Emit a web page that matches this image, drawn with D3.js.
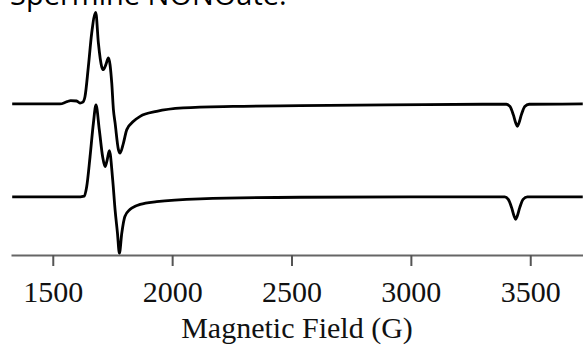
<!DOCTYPE html>
<html>
<head>
<meta charset="utf-8">
<script src="https://cdn.jsdelivr.net/npm/d3@7"></script>
<style>
  body { margin: 0; background: #fff; }
  svg { display: block; }
</style>
</head>
<body>
<div id="chart"></div>
<script>
// field ticks (G)
const fieldTicks = [1500, 2000, 2500, 3000, 3500];

// upper spectrum, field (G) and signal (a.u., relative to its own baseline)
const topField = [1330, 1530, 1560, 1575, 1600, 1614, 1626, 1635, 1649, 1663, 1680, 1691, 1705, 1712, 1722, 1733, 1747, 1754, 1761, 1775, 1782, 1796, 1810, 1838, 1866, 1935, 2046, 2255, 2536, 2900, 3300, 3400, 3415, 3429, 3440, 3446, 3452, 3463, 3477, 3495, 3720];
const topSignal = [0, 0, 0.025, 0.035, 0.032, 0.01, 0.02, 0.08, 0.40, 0.76, 0.985, 0.656, 0.40, 0.369, 0.42, 0.495, 0.226, -0.061, -0.204, -0.49, -0.527, -0.42, -0.276, -0.187, -0.133, -0.08, -0.043, -0.026, -0.018, -0.01, -0.003, -0.003, -0.026, -0.115, -0.21, -0.24, -0.21, -0.115, -0.026, -0.003, 0];

// lower spectrum
const bottomField = [1330, 1600, 1632, 1642, 1656, 1670, 1681, 1695, 1709, 1719, 1728, 1737, 1751, 1761, 1771, 1779, 1789, 1802, 1823, 1845, 1866, 1935, 2117, 2536, 3000, 3393, 3408, 3422, 3433, 3439, 3445, 3456, 3470, 3488, 3720];
const bottomSignal = [0, 0, 0.01, 0.11, 0.43, 0.79, 0.99, 0.72, 0.43, 0.326, 0.40, 0.498, 0.183, -0.14, -0.39, -0.605, -0.39, -0.21, -0.135, -0.10, -0.08, -0.05, -0.02, -0.003, 0, 0, -0.026, -0.115, -0.21, -0.24, -0.21, -0.115, -0.026, 0, 0];

const stackOffset = 1; // upper trace is shifted up by one unit

let width = 583, height = 345;
let svg = d3.select("#chart").append("svg")
  .attr("width", width)
  .attr("height", height);

let x = d3.scaleLinear().domain([1325, 3721]).range([11, 583]);
let y = d3.scaleLinear().domain([-0.624, 2.118]).range([255, 0]);

// title, cropped at the top of the picture like the source
svg.append("text")
  .attr("x", 10)
  .attr("y", 5)
  .style("font-family", "'Open Sans', sans-serif")
  .style("font-size", "29px")
  .attr("fill", "#000")
  .text("Spermine NONOate:");

let line = d3.line()
  .x(d => x(d[0]))
  .y(d => y(d[1]))
  .curve(d3.curveMonotoneX);

let topData = topField.map((f, i) => [f, topSignal[i] + stackOffset]);
let bottomData = bottomField.map((f, i) => [f, bottomSignal[i]]);

[topData, bottomData].forEach(d => {
  svg.append("path")
    .attr("d", line(d))
    .attr("fill", "none")
    .attr("stroke", "#000")
    .attr("stroke-width", 2.8)
    .attr("stroke-linejoin", "round");
});

let xAxis = d3.axisBottom(x)
  .tickValues(fieldTicks)
  .tickSize(11)
  .tickSizeOuter(0)
  .tickPadding(15)
  .tickFormat(d3.format("d"));

let gx = svg.append("g")
  .attr("transform", "translate(0,255)")
  .call(xAxis);

gx.select(".domain").attr("stroke", "#666").attr("stroke-width", 2);
gx.selectAll(".tick line").attr("stroke", "#555").attr("stroke-width", 2);
gx.selectAll(".tick text")
  .attr("fill", "#111")
  .style("font-family", "'Liberation Serif', 'Times New Roman', serif")
  .style("font-size", "30px");

svg.append("text")
  .attr("x", 297)
  .attr("y", 338)
  .attr("text-anchor", "middle")
  .style("font-family", "'Liberation Serif', 'Times New Roman', serif")
  .style("font-size", "30px")
  .attr("fill", "#111")
  .text("Magnetic Field (G)");
</script>
</body>
</html>
